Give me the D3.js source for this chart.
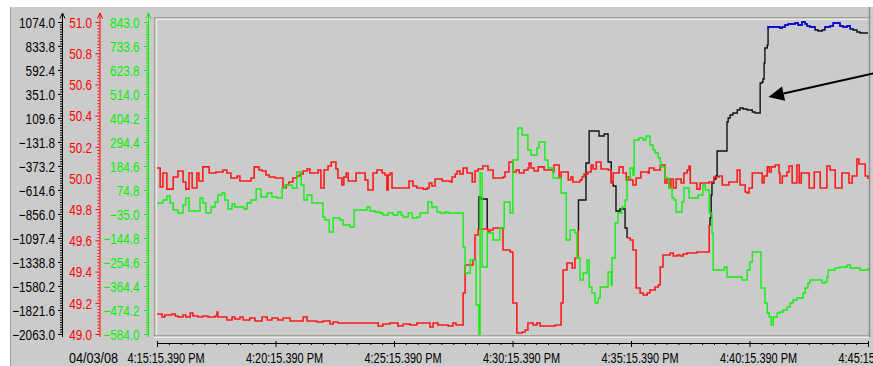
<!DOCTYPE html>
<html>
<head>
<meta charset="utf-8">
<script src="https://cdn.jsdelivr.net/npm/d3@7"></script>
<style>
  html, body { margin: 0; padding: 0; background: #fff; }
  svg { display: block; }
</style>
</head>
<body>
<svg id="chart" width="873" height="366"></svg>
<script>
// ---------------------------------------------------------------
// Trend data: 30 minutes of samples starting 04/03/08 4:15:15.390 PM.
// Each point is [seconds after start, value]; null breaks a trace.
// ---------------------------------------------------------------
const startTime = new Date(2008, 3, 3, 16, 15, 15, 390);
const spanSeconds = 1800;
const timeTickSeconds = [0, 300, 600, 900, 1200, 1500, 1800];
const dateLabel = "04/03/08";

const powerTicks = [1074.0, 833.8, 592.4, 351.0, 109.6, -131.8, -373.2, -614.6, -856.0, -1097.4, -1338.8, -1580.2, -1821.6, -2063.0];
const freqTicks  = [51.0, 50.8, 50.6, 50.4, 50.2, 50.0, 49.8, 49.6, 49.4, 49.2, 49.0];
const flowTicks  = [843.0, 733.6, 623.8, 514.0, 404.2, 294.4, 184.6, 74.8, -35.0, -144.8, -254.6, -364.4, -474.2, -584.0];

// values above this power level are drawn in blue
const powerLimit = 1000;

// grid frequency (red, middle axis)
const frequency = [
  [0,50.064],[8,49.942],[15,50.032],[25,49.929],[41,50.006],[53,50.045],[66,49.974],[73,49.929],[81,50.032],[89,49.936],
  [101,50.032],[106,49.981],[116,50.071],[132,50.032],[149,50.038],[167,50.051],[177,50.032],[187,50.000],[203,50.013],[210,49.981],
  [225,49.981],[238,50.000],[246,50.071],[258,50.051],[266,50.045],[276,50.019],[284,50.006],[299,50.000],[319,49.936],[327,49.955],
  [334,49.974],[344,50.000],[354,50.013],[362,50.026],[370,50.045],[380,50.058],[387,50.032],[408,50.051],[415,49.936],[423,50.051],
  [433,50.077],[441,50.103],[453,50.058],[458,50.000],[468,49.955],[473,50.006],[479,50.032],[484,49.981],[504,50.032],[527,49.987],
  [534,49.923],[547,50.032],[557,50.051],[570,50.032],[577,50.019],[582,49.923],[585,50.019],[590,50.032],[595,49.936],[638,49.981],
  [648,49.949],[658,49.936],[674,49.929],[684,49.936],[689,49.968],[696,49.949],[704,49.994],[722,49.981],[742,49.974],[747,50.006],
  [755,50.026],[760,50.045],[767,50.026],[775,50.064],[785,50.032],[798,49.974],[805,50.045],[813,50.058],[825,50.077],[838,50.051],
  [851,50.000],[876,50.006],[881,50.038],[891,50.103],[901,50.038],[909,50.051],[917,50.032],[929,50.051],[939,50.064],[942,50.096],
  [947,50.064],[955,50.045],[965,50.071],[980,50.051],[1003,50.038],[1005,50.083],[1018,50.000],[1023,50.038],[1041,49.987],[1048,50.006],
  [1053,49.974],[1071,49.987],[1076,50.006],[1081,50.026],[1091,50.038],[1099,50.083],[1104,50.058],[1112,50.103],[1124,50.058],[1142,50.051],
  [1150,49.968],[1155,50.032],[1170,50.071],[1180,50.032],[1188,49.987],[1193,50.006],[1198,49.987],[1205,49.955],[1213,50.000],[1225,50.038],
  [1243,50.032],[1246,50.064],[1258,50.051],[1274,50.083],[1286,49.968],[1291,49.994],[1296,49.936],[1301,49.994],[1307,49.936],[1314,49.994],
  [1327,49.968],[1334,50.032],[1342,50.051],[1347,50.077],[1350,49.968],[1367,49.929],[1375,49.968],[1398,49.974],[1410,50.006],[1423,50.013],
  [1431,49.955],[1448,49.974],[1461,49.974],[1469,50.051],[1476,49.955],[1489,49.910],[1494,49.904],[1499,49.936],[1507,50.032],[1527,50.032],
  [1532,49.968],[1537,50.013],[1545,50.071],[1550,50.038],[1555,50.071],[1565,50.083],[1575,50.032],[1577,49.968],[1583,50.013],[1595,50.038],
  [1600,50.077],[1608,49.968],[1620,50.083],[1626,49.968],[1631,50.032],[1651,49.936],[1664,50.038],[1679,49.936],[1696,50.077],[1704,50.051],
  [1717,49.936],[1734,50.032],[1752,49.968],[1760,50.013],[1772,50.122],[1777,50.090],[1793,50.013],[1800,49.994]
];

// flow (green, right axis)
const flow = [
  [0,15.2],[15,28.9],[25,47.2],[33,15.2],[41,-16.9],[53,-30.6],[66,6.0],[73,38.0],[81,-21.4],[109,38.0],
  [116,15.2],[124,-30.6],[137,-3.1],[147,19.7],[154,51.7],[165,60.9],[172,28.9],[180,-12.3],[190,10.6],[197,-3.1],
  [220,-12.3],[228,15.2],[238,28.9],[251,79.2],[263,42.6],[279,60.9],[291,42.6],[304,38.0],[317,83.8],[324,97.5],
  [342,83.8],[354,156.9],[365,97.5],[372,28.9],[380,51.7],[392,15.2],[420,-48.9],[425,-62.6],[436,-117.5],[446,-53.4],
  [463,-62.6],[471,-85.5],[489,-94.6],[499,-16.9],[532,-3.1],[539,-21.4],[552,-26.0],[565,-30.6],[572,-39.7],[585,-30.6],
  [598,-39.7],[610,-26.0],[618,-39.7],[623,-48.9],[636,-30.6],[646,-53.4],[658,-48.9],[666,-30.6],[686,19.7],[696,-3.1],
  [709,-26.0],[717,-30.6],[729,-26.0],[737,-30.6],[775,-186.1],[780,-305.0],[793,-245.5],[808,-451.4],[815,-584.0],[818,152.4],
  [823,-277.6],[836,-122.1],[851,-154.1],[868,-99.2],[879,19.7],[894,-30.6],[901,211.8],[914,358.2],[924,326.2],[939,257.6],
  [947,234.7],[962,266.7],[967,294.1],[982,211.8],[990,175.2],[1003,129.5],[1023,60.9],[1036,-154.1],[1046,-108.3],[1058,-122.1],
  [1063,-236.4],[1071,-337.0],[1079,-305.0],[1089,-245.5],[1094,-369.0],[1101,-396.5],[1109,-442.2],[1117,-419.3],[1122,-369.0],[1142,-300.4],
  [1150,-359.9],[1152,-236.4],[1160,-76.3],[1167,-30.6],[1177,-3.1],[1185,28.9],[1190,129.5],[1198,175.2],[1205,143.2],[1208,303.3],
  [1220,312.4],[1231,303.3],[1238,321.6],[1248,280.4],[1256,257.6],[1261,243.8],[1269,221.0],[1274,202.7],[1276,179.8],[1286,129.5],
  [1296,83.8],[1304,38.0],[1309,28.9],[1314,-26.0],[1329,19.7],[1334,83.8],[1347,38.0],[1370,51.7],[1382,97.5],[1388,74.6],
  [1398,-30.6],[1405,-122.1],[1408,-291.3],[1436,-277.6],[1443,-323.3],[1481,-337.0],[1494,-291.3],[1501,-254.7],[1507,-209.0],[1529,-373.6],
  [1539,-442.2],[1545,-488.0],[1550,-506.3],[1555,-542.8],[1560,-506.3],[1570,-488.0],[1577,-483.4],[1585,-474.2],[1595,-460.5],[1603,-442.2],
  [1610,-428.5],[1620,-419.3],[1636,-396.5],[1641,-373.6],[1648,-350.7],[1653,-337.0],[1684,-350.7],[1691,-346.2],[1696,-323.3],[1699,-291.3],
  [1717,-282.1],[1729,-277.6],[1747,-268.4],[1755,-282.1],[1780,-291.3],[1800,-282.1]
];

// measured power (red, left axis scale)
const powerActual = [
  [0,-1861.9],[13,-1892.1],[20,-1872.0],[38,-1861.9],[46,-1882.0],[53,-1892.1],[66,-1872.0],[73,-1892.1],[84,-1851.9],[91,-1882.0],
  [104,-1892.1],[116,-1882.0],[129,-1892.1],[147,-1882.0],[152,-1841.8],[154,-1892.1],[177,-1922.2],[190,-1892.1],[197,-1912.2],[210,-1892.1],
  [218,-1922.2],[235,-1902.1],[248,-1932.3],[266,-1892.1],[279,-1922.2],[291,-1902.1],[306,-1922.2],[319,-1902.1],[337,-1932.3],[370,-1892.1],
  [380,-1932.3],[405,-1942.4],[420,-1932.3],[438,-1962.5],[446,-1942.4],[458,-1952.4],[560,-1982.6],[572,-1962.5],[590,-1952.4],[610,-1982.6],
  [623,-1962.5],[641,-1972.5],[658,-1952.4],[691,-1992.6],[699,-1952.4],[711,-1972.5],[737,-1982.6],[749,-1952.4],[757,-1972.5],[775,-1650.8],
  [780,-1369.3],[800,-1319.0],[805,-1067.7],[813,-1007.3],[838,-1037.5],[843,-1017.4],[851,-997.3],[876,-1218.5],[894,-1238.6],[901,-1751.3],
  [911,-2052.9],[924,-2042.9],[932,-2022.8],[939,-1952.4],[952,-1972.5],[962,-1952.4],[970,-1982.6],[1008,-1972.5],[1023,-1751.3],[1028,-1419.5],
  [1038,-1349.2],[1051,-1399.4],[1058,-1298.9],[1066,-1017.4],[1067,null],
  [1190,-1097.8],[1198,-1117.9],[1205,-1218.5],[1213,-1600.5],[1223,-1650.8],[1231,-1670.9],[1241,-1650.8],[1248,-1620.6],[1261,-1590.5],[1269,-1570.4],
  [1274,-1389.4],[1281,-1268.7],[1299,-1248.6],[1307,-1278.8],[1317,-1268.7],[1324,-1278.8],[1332,-1258.7],[1342,-1248.6],[1367,-1238.6],[1398,-967.1]
];

// power setpoint (black, left axis)
const powerSetpoint = [
  [813,-1007.3],[815,-685.6],[820,-705.7],[836,-1007.3],[837,null],
  [1066,-1017.4],[1067,-715.8],[1086,-343.8],[1094,-22.0],[1119,-72.3],[1132,-52.2],[1142,-333.7],[1150,-534.8],[1155,-575.0],
  [1162,-826.4],[1172,-806.3],[1185,-997.3],[1190,-1097.8],[1191,null],
  [1398,-967.1],[1400,-896.7],[1403,-665.5],[1405,-544.8],[1410,-504.6],[1415,-474.5],[1418,-223.1],[1443,68.4],[1446,108.7],[1451,138.8],
  [1458,159.0],[1469,189.1],[1476,209.2],[1484,199.2],[1494,189.1],[1507,169.0],[1514,159.0],[1527,460.6],[1532,470.6],[1534,500.8],
  [1537,661.6],[1539,812.4],[1545,842.6],[1547,1023.6],[1577,1013.5],[1583,1023.6],[1590,1043.7],[1598,1053.7],[1615,1063.8],[1623,1043.7],
  [1633,1073.8],[1641,1053.7],[1646,1033.6],[1653,1023.6],[1666,993.4],[1674,983.4],[1684,993.4],[1691,1023.6],[1704,1033.6],[1712,1063.8],
  [1729,1033.6],[1737,1023.6],[1747,1033.6],[1755,1003.5],[1762,993.4],[1772,973.3],[1780,963.3],[1788,963.3],[1800,963.3]
];

// annotation arrow, in seconds / power units
const arrowTail = [1818, 561];
const arrowTip  = [1548, 320];

// ---------------------------------------------------------------
const svg = d3.select("#chart");
const W = 873, H = 366;
const frame = { left: 154, top: 17, right: 869, bottom: 336 };
const bg = "#cbcbcb";
const font = "'Liberation Sans', Arial, sans-serif";

const at = s => new Date(startTime.getTime() + s * 1000);
const x = d3.scaleTime().domain([at(0), at(spanSeconds)]).range([157, 868]);
const yTop = 22, yBottom = 334;
const yPower = d3.scaleLinear().domain([d3.min(powerTicks), d3.max(powerTicks)]).range([yBottom, yTop]);
const yFreq  = d3.scaleLinear().domain([d3.min(freqTicks),  d3.max(freqTicks)]).range([yBottom, yTop]);
const yFlow  = d3.scaleLinear().domain([d3.min(flowTicks),  d3.max(flowTicks)]).range([yBottom, yTop]);

// window background
svg.append("rect").attr("width", W).attr("height", H).attr("fill", "#fff");
svg.append("rect").attr("x", 11).attr("y", 7).attr("width", W - 11).attr("height", H - 7).attr("fill", bg);
svg.append("line").attr("x1", 10.5).attr("x2", 10.5).attr("y1", 7).attr("y2", H)
  .attr("stroke", "#a0a0a0").attr("stroke-width", 1);

// sunken plot frame
const fr = svg.append("g").attr("fill", "none");
fr.append("path").attr("d", `M${frame.left + 0.5},${frame.bottom} V${frame.top + 0.5} H${frame.right}`)
  .attr("stroke", "#a3a394").attr("stroke-width", 1.2);
fr.append("path").attr("d", `M${frame.left + 2.5},${frame.bottom - 1} V${frame.top + 2.5} H${frame.right - 1}`)
  .attr("stroke", "#ececec").attr("stroke-width", 1.2);
fr.append("line").attr("x1", frame.left).attr("x2", frame.right).attr("y1", frame.bottom - 0.5).attr("y2", frame.bottom - 0.5)
  .attr("stroke", "#a3a394").attr("stroke-width", 1);
fr.append("line").attr("x1", frame.left).attr("x2", frame.right).attr("y1", frame.bottom + 1.5).attr("y2", frame.bottom + 1.5)
  .attr("stroke", "#ececec").attr("stroke-width", 1.2);
fr.append("line").attr("x1", frame.right + 0.5).attr("x2", frame.right + 0.5).attr("y1", 7).attr("y2", frame.bottom + 1)
  .attr("stroke", "#8c8c8c").attr("stroke-width", 1.4);

// clip regions
const defs = svg.append("defs");
defs.append("clipPath").attr("id", "plotClip").append("rect")
  .attr("x", frame.left + 1).attr("y", frame.top + 1)
  .attr("width", frame.right - frame.left - 1).attr("height", frame.bottom - frame.top - 1);
defs.append("clipPath").attr("id", "limitClip").append("rect")
  .attr("x", frame.left + 1).attr("y", frame.top + 1)
  .attr("width", frame.right - frame.left - 1).attr("height", yPower(powerLimit) - frame.top - 1);

const stepLine = y => d3.line()
  .defined(d => d[1] !== null)
  .x(d => x(at(d[0])))
  .y(d => y(d[1]))
  .curve(d3.curveStepAfter);

const traces = svg.append("g").attr("clip-path", "url(#plotClip)").attr("fill", "none")
  .attr("stroke-linejoin", "miter");

traces.append("path").datum(powerSetpoint).attr("d", stepLine(yPower))
  .attr("stroke", "#111").attr("stroke-width", 1.4);
svg.append("g").attr("clip-path", "url(#limitClip)").append("path").datum(powerSetpoint)
  .attr("d", stepLine(yPower)).attr("fill", "none").attr("stroke", "#0000ff").attr("stroke-width", 1.4);
traces.append("path").datum(powerActual).attr("d", stepLine(yPower))
  .attr("stroke", "#ff1a1a").attr("stroke-width", 1.6);
traces.append("path").datum(frequency).attr("d", stepLine(yFreq))
  .attr("stroke", "#ff1a1a").attr("stroke-width", 1.6);
traces.append("path").datum(flow).attr("d", stepLine(yFlow))
  .attr("stroke", "#10f010").attr("stroke-width", 1.4);

// vertical axes with minor ticks and an arrow on top
function valueAxis(scale, ticks, axisX, color, labelGap, sx) {
  const g = svg.append("g").attr("transform", `translate(${axisX},0)`).attr("color", color);
  const minor = [];
  for (let i = 0; i < ticks.length - 1; i++)
    for (let k = 1; k < 10; k++) minor.push(ticks[i] + (ticks[i + 1] - ticks[i]) * k / 10);
  g.append("g").call(d3.axisLeft(scale).tickValues(minor).tickSize(2).tickSizeOuter(0).tickFormat(""))
    .call(a => a.select(".domain").remove());
  const major = g.append("g")
    .call(d3.axisLeft(scale).tickValues(ticks).tickSize(4).tickSizeOuter(0).tickFormat(d3.format(".1f")))
    .call(a => a.select(".domain").remove());
  major.attr("font-family", null).attr("font-size", null);
  major.selectAll("text")
    .attr("x", -labelGap / sx).attr("dy", "0.36em")
    .attr("transform", `scale(${sx},1)`)
    .style("font-family", font).style("font-size", "14.5px");
  g.append("path").attr("d", "M0.5,337 V13").attr("stroke", color).attr("stroke-width", 1).attr("fill", "none");
  g.append("path").attr("d", "M-2,18.5 L0.5,13 L3,18.5").attr("stroke", color).attr("stroke-width", 1).attr("fill", "none");
}
valueAxis(yPower, powerTicks, 62, "#000", 7, 0.81);
valueAxis(yFreq,  freqTicks, 99.5, "#ff0000", 7.5, 0.81);
valueAxis(yFlow,  flowTicks, 148, "#00f000", 8.5, 0.81);

// time axis
const xAxisY = 343;
const timeFmt = d3.timeFormat("%-I:%M:%S.%L %p");
const majorTimes = timeTickSeconds.map(at);
const minorTimes = d3.range(0, spanSeconds + 1, 30).filter(s => s % 300 !== 0).map(at);
const xg = svg.append("g").attr("transform", `translate(0,${xAxisY})`).attr("color", "#000");
xg.append("g").call(d3.axisBottom(x).tickValues(minorTimes).tickSize(2).tickSizeOuter(0).tickFormat(""))
  .call(a => a.select(".domain").remove());
const xMajor = xg.append("g")
  .call(d3.axisBottom(x).tickValues(majorTimes).tickSize(4).tickSizeOuter(0).tickFormat(timeFmt))
  .call(a => a.select(".domain").remove());
xMajor.selectAll(".tick line").attr("y1", -2);
const sxTime = 0.78;
xMajor.selectAll("text")
  .attr("text-anchor", "start").attr("x", -30 / sxTime).attr("y", 10).attr("dy", "0.71em")
  .attr("transform", `scale(${sxTime},1)`)
  .style("font-family", font).style("font-size", "14px");
xg.append("line").attr("x1", x(at(0))).attr("x2", frame.right).attr("y1", 0.5).attr("y2", 0.5)
  .attr("stroke", "#000").attr("stroke-width", 1);
svg.append("text").attr("transform", `translate(118,${xAxisY + 10}) scale(0.9,1)`)
  .attr("dy", "0.71em").attr("text-anchor", "end")
  .style("font-family", font).style("font-size", "14px").attr("fill", "#000")
  .text(dateLabel);

// annotation arrow pointing at the setpoint ramp
const tail = [x(at(arrowTail[0])), yPower(arrowTail[1])];
const tip  = [x(at(arrowTip[0])),  yPower(arrowTip[1])];
const dx = tip[0] - tail[0], dy = tip[1] - tail[1];
const len = Math.hypot(dx, dy), ux = dx / len, uy = dy / len;
const headLen = 15.5, headHalf = 7.3;
const base = [tip[0] - ux * headLen, tip[1] - uy * headLen];
svg.append("line").attr("x1", tail[0]).attr("y1", tail[1]).attr("x2", base[0]).attr("y2", base[1])
  .attr("stroke", "#000").attr("stroke-width", 2);
svg.append("path")
  .attr("d", `M${tip[0]},${tip[1]} L${base[0] - uy * headHalf},${base[1] + ux * headHalf} L${base[0] + uy * headHalf},${base[1] - ux * headHalf} Z`)
  .attr("fill", "#000");
</script>
</body>
</html>
